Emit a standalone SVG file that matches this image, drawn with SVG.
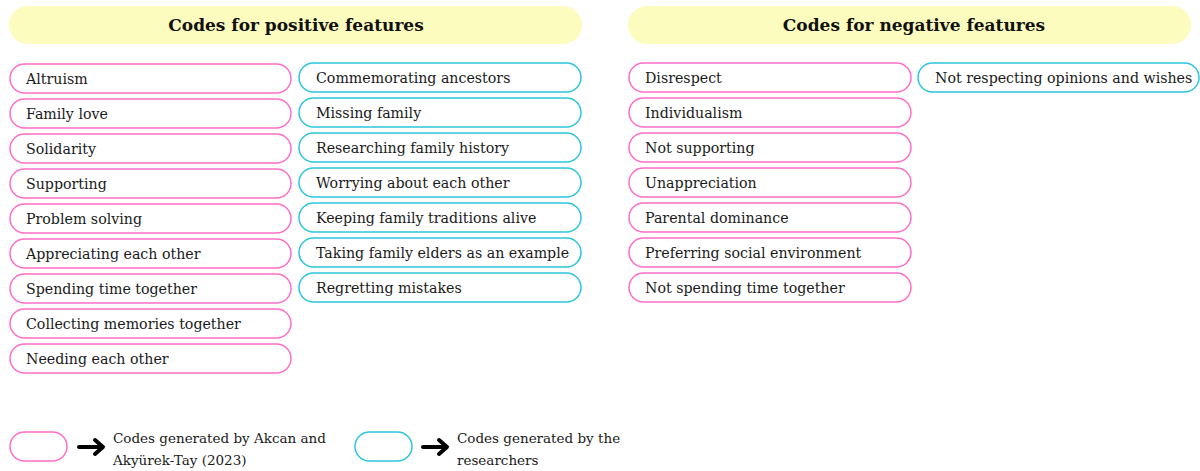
<svg xmlns="http://www.w3.org/2000/svg" width="1200" height="471" viewBox="0 0 1200 471">
<style>
.hdr{fill:#fcfcbe;stroke:none}
.ht{font-family:"DejaVu Serif","Liberation Serif",serif;font-weight:bold;font-size:17px;fill:#111;text-anchor:middle}
.pk{fill:#fff;stroke:#ff6ec7;stroke-width:1.5}
.bl{fill:#fff;stroke:#2cc6e0;stroke-width:1.5}
.t{font-family:"DejaVu Serif","Liberation Serif",serif;font-size:14.2px;fill:#1a1a1a}
.lt{font-family:"DejaVu Serif","Liberation Serif",serif;font-size:13.5px;fill:#1a1a1a}
.ar{fill:none;stroke:#000;stroke-width:4;stroke-linecap:round;stroke-linejoin:round}
</style>
<g id="header-positive"><rect class="hdr" x="9" y="6" width="573" height="38" rx="19"/><text class="ht" x="296" y="31">Codes for positive features</text></g>
<g id="header-negative"><rect class="hdr" x="628" y="6" width="563" height="38" rx="19"/><text class="ht" x="914" y="31">Codes for negative features</text></g>

<g id="p1"><rect class="pk" x="10" y="64" width="281" height="29" rx="14.5"/><text class="t" x="26" y="84">Altruism</text></g>
<g id="p2"><rect class="pk" x="10" y="99" width="281" height="29" rx="14.5"/><text class="t" x="26" y="119">Family love</text></g>
<g id="p3"><rect class="pk" x="10" y="134" width="281" height="29" rx="14.5"/><text class="t" x="26" y="154">Solidarity</text></g>
<g id="p4"><rect class="pk" x="10" y="169" width="281" height="29" rx="14.5"/><text class="t" x="26" y="189">Supporting</text></g>
<g id="p5"><rect class="pk" x="10" y="204" width="281" height="29" rx="14.5"/><text class="t" x="26" y="224">Problem solving</text></g>
<g id="p6"><rect class="pk" x="10" y="239" width="281" height="29" rx="14.5"/><text class="t" x="26" y="259">Appreciating each other</text></g>
<g id="p7"><rect class="pk" x="10" y="274" width="281" height="29" rx="14.5"/><text class="t" x="26" y="294">Spending time together</text></g>
<g id="p8"><rect class="pk" x="10" y="309" width="281" height="29" rx="14.5"/><text class="t" x="26" y="329">Collecting memories together</text></g>
<g id="p9"><rect class="pk" x="10" y="344" width="281" height="29" rx="14.5"/><text class="t" x="26" y="364">Needing each other</text></g>

<g id="b1"><rect class="bl" x="299" y="63" width="282" height="29" rx="14.5"/><text class="t" x="316" y="83">Commemorating ancestors</text></g>
<g id="b2"><rect class="bl" x="299" y="98" width="282" height="29" rx="14.5"/><text class="t" x="316" y="118">Missing family</text></g>
<g id="b3"><rect class="bl" x="299" y="133" width="282" height="29" rx="14.5"/><text class="t" x="316" y="153">Researching family history</text></g>
<g id="b4"><rect class="bl" x="299" y="168" width="282" height="29" rx="14.5"/><text class="t" x="316" y="188">Worrying about each other</text></g>
<g id="b5"><rect class="bl" x="299" y="203" width="282" height="29" rx="14.5"/><text class="t" x="316" y="223">Keeping family traditions alive</text></g>
<g id="b6"><rect class="bl" x="299" y="238" width="282" height="29" rx="14.5"/><text class="t" x="316" y="258">Taking family elders as an example</text></g>
<g id="b7"><rect class="bl" x="299" y="273" width="282" height="29" rx="14.5"/><text class="t" x="316" y="293">Regretting mistakes</text></g>

<g id="n1"><rect class="pk" x="629" y="63" width="282" height="29" rx="14.5"/><text class="t" x="645" y="83">Disrespect</text></g>
<g id="n2"><rect class="pk" x="629" y="98" width="282" height="29" rx="14.5"/><text class="t" x="645" y="118">Individualism</text></g>
<g id="n3"><rect class="pk" x="629" y="133" width="282" height="29" rx="14.5"/><text class="t" x="645" y="153">Not supporting</text></g>
<g id="n4"><rect class="pk" x="629" y="168" width="282" height="29" rx="14.5"/><text class="t" x="645" y="188">Unappreciation</text></g>
<g id="n5"><rect class="pk" x="629" y="203" width="282" height="29" rx="14.5"/><text class="t" x="645" y="223">Parental dominance</text></g>
<g id="n6"><rect class="pk" x="629" y="238" width="282" height="29" rx="14.5"/><text class="t" x="645" y="258">Preferring social environment</text></g>
<g id="n7"><rect class="pk" x="629" y="273" width="282" height="29" rx="14.5"/><text class="t" x="645" y="293">Not spending time together</text></g>
<g id="nb1"><rect class="bl" x="918" y="63" width="281" height="29" rx="14.5"/><text class="t" x="935" y="83">Not respecting opinions and wishes</text></g>

<g id="legend-pink"><rect class="pk" x="10" y="432" width="57" height="29" rx="14.5"/><text class="lt" x="113" y="443">Codes generated by Akcan and</text><text class="lt" x="113" y="465">Akyürek-Tay (2023)</text></g>
<g id="legend-blue"><rect class="bl" x="355" y="432" width="57" height="29" rx="14.5"/><text class="lt" x="457" y="443">Codes generated by the</text><text class="lt" x="457" y="465">researchers</text></g>
<g id="connectors">
<path class="ar" d="M79 447 H102 M95 440 L103 447 L95 454"/>
<path class="ar" d="M423 447 H446 M439 440 L447 447 L439 454"/>
</g>
</svg>
